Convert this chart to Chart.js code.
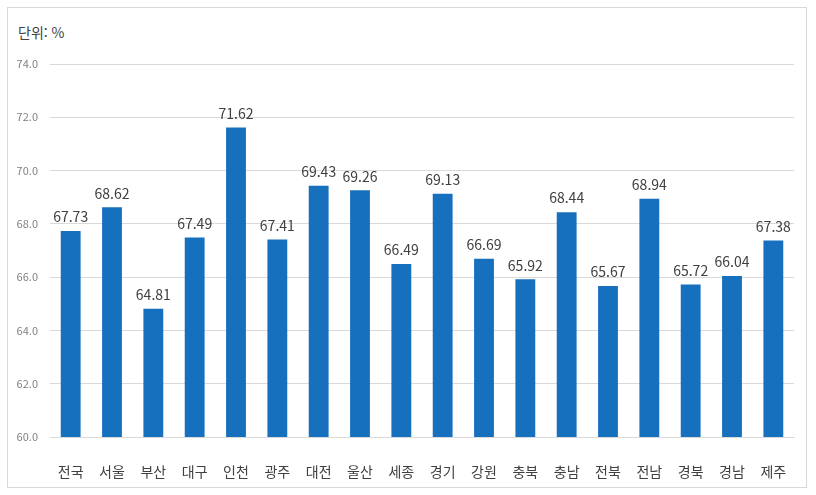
<!DOCTYPE html>
<html lang="ko">
<head>
    <meta charset="utf-8">
    <title>지역별 비율</title>
    <script src="https://cdn.jsdelivr.net/npm/chart.js"></script>
    <style>
        body {
            margin: 0;
            background: #fff;
            font-family: "Noto Sans CJK KR", "Noto Sans", sans-serif;
        }
        .box {
            position: absolute;
            left: 7px;
            top: 7px;
            width: 798px;
            height: 479px;
            border: 1px solid #d9d9d9;
        }
        .unit {
            position: absolute;
            left: 10px;
            top: 14px;
            font-size: 14px;
            color: #404040;
        }
        canvas {
            position: absolute;
            left: 0;
            top: 0;
        }
    </style>
</head>
<body>
    <div class="box">
        <div class="unit">단위: %</div>
        <canvas id="chart" width="798" height="479"></canvas>
    </div>

    <script>
        const regions = ['전국', '서울', '부산', '대구', '인천', '광주', '대전', '울산', '세종',
                         '경기', '강원', '충북', '충남', '전북', '전남', '경북', '경남', '제주'];
        const rates = [67.73, 68.62, 64.81, 67.49, 71.62, 67.41, 69.43, 69.26, 66.49,
                       69.13, 66.69, 65.92, 68.44, 65.67, 68.94, 65.72, 66.04, 67.38];
        const yTicks = [60, 62, 64, 66, 68, 70, 72, 74];

        const fontFamily = '"Noto Sans CJK KR", "Noto Sans", sans-serif';

        // value labels above each bar
        const valueLabels = {
            id: 'valueLabels',
            afterDatasetsDraw(chart) {
                const ctx = chart.ctx;
                const meta = chart.getDatasetMeta(0);
                ctx.save();
                ctx.font = '14px ' + fontFamily;
                ctx.fillStyle = '#404040';
                ctx.textAlign = 'center';
                ctx.textBaseline = 'bottom';
                meta.data.forEach((bar, i) => {
                    ctx.fillText(rates[i].toFixed(2), bar.x, bar.y - 7);
                });
                ctx.restore();
            }
        };

        new Chart(document.getElementById('chart'), {
            type: 'bar',
            data: {
                labels: regions,
                datasets: [{
                    data: rates,
                    backgroundColor: '#1670be',
                    barPercentage: 0.5,
                    categoryPercentage: 0.96
                }]
            },
            options: {
                responsive: false,
                animation: false,
                layout: {
                    padding: { top: 56, right: 12, left: 0, bottom: 0 }
                },
                plugins: {
                    legend: { display: false },
                    tooltip: { enabled: false }
                },
                scales: {
                    x: {
                        grid: { display: false },
                        border: { color: '#d9d9d9' },
                        ticks: {
                            color: '#404040',
                            font: { family: fontFamily, size: 14 },
                            padding: 18,
                            maxRotation: 0,
                            autoSkip: false
                        },
                        afterFit(scale) { scale.height = 50; }
                    },
                    y: {
                        min: 60,
                        max: 74,
                        afterBuildTicks(scale) {
                            scale.ticks = yTicks.map(v => ({ value: v }));
                        },
                        grid: {
                            color: '#d9d9d9',
                            drawTicks: false
                        },
                        border: { display: false },
                        ticks: {
                            color: '#7f7f7f',
                            font: { family: fontFamily, size: 11 },
                            padding: 12,
                            callback: v => v.toFixed(1)
                        },
                        afterFit(scale) { scale.width = 42; }
                    }
                }
            },
            plugins: [valueLabels]
        });
    </script>
</body>
</html>
